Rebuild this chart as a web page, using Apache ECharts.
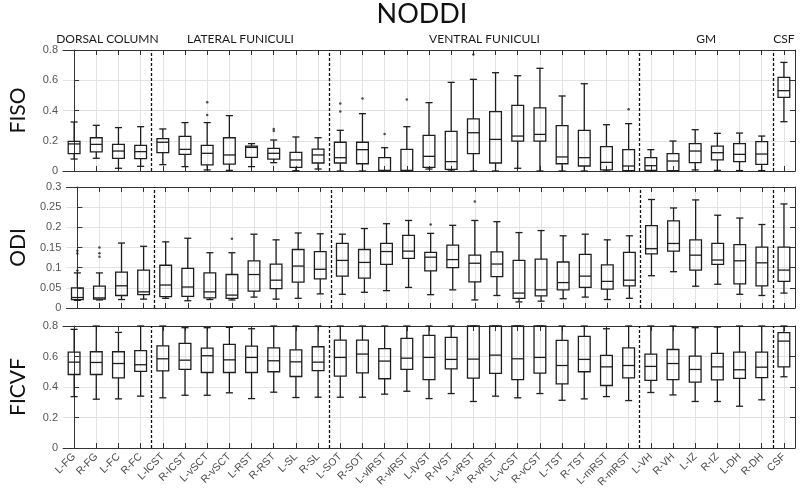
<!DOCTYPE html>
<html>
<head>
<meta charset="utf-8">
<script src="https://cdn.jsdelivr.net/npm/echarts@6/dist/echarts.min.js"></script>
<style>
  html, body { margin: 0; padding: 0; background: #fff; }
  #main { width: 800px; height: 493px; }
</style>
</head>
<body>
<div id="main"></div>
<script>
var tracts = ['L-FG', 'R-FG', 'L-FC', 'R-FC',
  'L-lCST', 'R-lCST', 'L-vSCT', 'R-vSCT', 'L-RST', 'R-RST', 'L-SL', 'R-SL',
  'L-SOT', 'R-SOT', 'L-vlRST', 'R-vlRST', 'L-lVST', 'R-lVST', 'L-vRST', 'R-vRST',
  'L-vCST', 'R-vCST', 'L-TST', 'R-TST', 'L-mRST', 'R-mRST',
  'L-VH', 'R-VH', 'L-IZ', 'R-IZ', 'L-DH', 'R-DH', 'CSF']

// region groups, in order, with how many tracts each holds
var groupNames = ['DORSAL COLUMN', 'LATERAL FUNICULI', 'VENTRAL FUNICULI', 'GM', 'CSF']
var groupSizes = [4, 8, 14, 6, 1]

// [min, q1, median, q3, max] for each tract
var fiso = [
  [0.079, 0.115, 0.179, 0.196, 0.324],
  [0.084, 0.126, 0.176, 0.220, 0.302],
  [0.018, 0.084, 0.132, 0.176, 0.287],
  [0.031, 0.082, 0.128, 0.170, 0.293],
  [0.042, 0.121, 0.190, 0.214, 0.278],
  [0.029, 0.110, 0.143, 0.229, 0.320],
  [0.007, 0.040, 0.117, 0.170, 0.320],
  [0.004, 0.046, 0.106, 0.220, 0.366],
  [0.029, 0.090, 0.156, 0.165, 0.181],
  [0.055, 0.079, 0.117, 0.150, 0.205],
  [0.002, 0.024, 0.073, 0.123, 0.225],
  [0.013, 0.053, 0.106, 0.145, 0.220],
  [0.000, 0.053, 0.088, 0.190, 0.269],
  [0.000, 0.048, 0.141, 0.190, 0.379],
  [0.000, 0.002, 0.004, 0.088, 0.154],
  [0.000, 0.001, 0.004, 0.143, 0.293],
  [0.013, 0.024, 0.097, 0.236, 0.452],
  [0.000, 0.011, 0.062, 0.262, 0.586],
  [0.000, 0.115, 0.253, 0.344, 0.606],
  [0.000, 0.053, 0.209, 0.392, 0.650],
  [0.018, 0.198, 0.231, 0.434, 0.630],
  [0.000, 0.198, 0.242, 0.417, 0.679],
  [0.000, 0.048, 0.093, 0.300, 0.496],
  [0.000, 0.033, 0.088, 0.269, 0.577],
  [0.000, 0.007, 0.057, 0.161, 0.306],
  [0.000, 0.003, 0.033, 0.141, 0.313],
  [0.000, 0.004, 0.035, 0.088, 0.141],
  [0.000, 0.003, 0.066, 0.115, 0.198],
  [0.007, 0.055, 0.132, 0.181, 0.273],
  [0.004, 0.073, 0.121, 0.165, 0.249],
  [0.003, 0.062, 0.110, 0.181, 0.251],
  [0.003, 0.044, 0.112, 0.194, 0.231],
  [0.326, 0.487, 0.531, 0.619, 0.718]
]
var fisoOutliers = [[6, 0.454], [6, 0.370], [9, 0.278], [9, 0.264], [12, 0.447], [12, 0.394],
  [13, 0.480], [14, 0.245], [15, 0.472], [18, 0.771], [25, 0.408]]

var odi = [
  [0.019, 0.021, 0.026, 0.050, 0.087],
  [0.020, 0.022, 0.025, 0.054, 0.087],
  [0.021, 0.031, 0.055, 0.089, 0.161],
  [0.022, 0.033, 0.040, 0.094, 0.153],
  [0.024, 0.028, 0.057, 0.106, 0.164],
  [0.018, 0.029, 0.052, 0.098, 0.173],
  [0.021, 0.025, 0.040, 0.087, 0.137],
  [0.020, 0.024, 0.032, 0.083, 0.137],
  [0.027, 0.042, 0.083, 0.117, 0.183],
  [0.022, 0.048, 0.069, 0.109, 0.169],
  [0.024, 0.064, 0.104, 0.145, 0.186],
  [0.035, 0.072, 0.096, 0.140, 0.184],
  [0.034, 0.079, 0.118, 0.160, 0.183],
  [0.039, 0.074, 0.113, 0.145, 0.197],
  [0.043, 0.108, 0.140, 0.160, 0.209],
  [0.051, 0.123, 0.141, 0.180, 0.217],
  [0.033, 0.092, 0.126, 0.138, 0.185],
  [0.045, 0.100, 0.120, 0.156, 0.205],
  [0.020, 0.065, 0.111, 0.131, 0.217],
  [0.031, 0.078, 0.109, 0.139, 0.214],
  [0.015, 0.024, 0.037, 0.118, 0.187],
  [0.017, 0.030, 0.045, 0.121, 0.192],
  [0.023, 0.045, 0.063, 0.114, 0.179],
  [0.027, 0.051, 0.079, 0.133, 0.183],
  [0.021, 0.047, 0.066, 0.107, 0.169],
  [0.024, 0.055, 0.069, 0.138, 0.179],
  [0.080, 0.134, 0.147, 0.204, 0.269],
  [0.090, 0.141, 0.160, 0.216, 0.248],
  [0.054, 0.094, 0.131, 0.169, 0.268],
  [0.059, 0.108, 0.119, 0.160, 0.230],
  [0.034, 0.060, 0.117, 0.157, 0.223],
  [0.031, 0.055, 0.112, 0.151, 0.207],
  [0.037, 0.066, 0.094, 0.151, 0.258]
]
var odiOutliers = [[0, 0.142], [0, 0.135], [0, 0.093], [1, 0.150], [1, 0.136], [1, 0.127],
  [7, 0.172], [16, 0.207], [18, 0.264]]

var ficvf = [
  [0.337, 0.482, 0.563, 0.629, 0.778],
  [0.320, 0.482, 0.561, 0.631, 0.800],
  [0.322, 0.460, 0.554, 0.631, 0.758],
  [0.340, 0.502, 0.546, 0.638, 0.800],
  [0.329, 0.506, 0.585, 0.670, 0.800],
  [0.346, 0.515, 0.576, 0.686, 0.789],
  [0.346, 0.495, 0.605, 0.655, 0.789],
  [0.362, 0.495, 0.578, 0.679, 0.791],
  [0.324, 0.495, 0.594, 0.668, 0.782],
  [0.366, 0.500, 0.572, 0.657, 0.800],
  [0.331, 0.469, 0.565, 0.644, 0.800],
  [0.333, 0.508, 0.563, 0.664, 0.800],
  [0.333, 0.471, 0.594, 0.708, 0.800],
  [0.333, 0.493, 0.616, 0.708, 0.800],
  [0.353, 0.454, 0.570, 0.651, 0.800],
  [0.372, 0.515, 0.589, 0.719, 0.800],
  [0.324, 0.449, 0.594, 0.738, 0.800],
  [0.357, 0.519, 0.581, 0.725, 0.800],
  [0.305, 0.458, 0.583, 0.800, 0.800],
  [0.340, 0.489, 0.609, 0.800, 0.800],
  [0.329, 0.449, 0.585, 0.800, 0.800],
  [0.357, 0.491, 0.594, 0.800, 0.800],
  [0.313, 0.421, 0.541, 0.706, 0.800],
  [0.322, 0.500, 0.581, 0.732, 0.800],
  [0.337, 0.410, 0.532, 0.607, 0.782],
  [0.311, 0.460, 0.541, 0.657, 0.800],
  [0.364, 0.443, 0.535, 0.616, 0.800],
  [0.348, 0.449, 0.554, 0.646, 0.800],
  [0.305, 0.432, 0.515, 0.603, 0.789],
  [0.305, 0.447, 0.532, 0.620, 0.793],
  [0.274, 0.456, 0.513, 0.629, 0.800],
  [0.316, 0.462, 0.530, 0.629, 0.800],
  [0.467, 0.532, 0.701, 0.756, 0.800]
]
var ficvfOutliers = []

var panels = [
  { name: 'FISO', stats: fiso, outliers: fisoOutliers, max: 0.8, step: 0.2, top: 50, height: 121 },
  { name: 'ODI', stats: odi, outliers: odiOutliers, max: 0.3, step: 0.05, top: 187, height: 121 },
  { name: 'FICVF', stats: ficvf, outliers: ficvfOutliers, max: 0.8, step: 0.2, top: 326, height: 122 },
]

var frameColor = '#333'
var gridColor = '#e3e3e3'
var boxColor = '#1e1e1e'

// divider positions between groups, and the span of each group (in tract index units)
var dividers = []
var groupAreas = []
var start = 0
groupSizes.forEach(function (n, i) {
  groupAreas.push([{ xAxis: start - 0.5, name: groupNames[i] }, { xAxis: start + n - 0.5 }])
  start += n
  if (i < groupSizes.length - 1) dividers.push({ xAxis: start - 0.5 })
})

function lineStyle(w) {
  return { stroke: boxColor, lineWidth: w || 1.3, fill: null }
}

function renderBox(params, api) {
  var x = api.value(0)
  var lo = api.coord([x, api.value(1)])
  var q1 = api.coord([x, api.value(2)])
  var md = api.coord([x, api.value(3)])
  var q3 = api.coord([x, api.value(4)])
  var hi = api.coord([x, api.value(5)])
  var band = api.size([1, 0])[0]
  var bw = band * 0.53
  var cw = band * 0.32
  var cx = lo[0]
  return {
    type: 'group',
    children: [
      { type: 'line', shape: { x1: cx, y1: hi[1], x2: cx, y2: q3[1] }, style: lineStyle() },
      { type: 'line', shape: { x1: cx, y1: q1[1], x2: cx, y2: lo[1] }, style: lineStyle() },
      { type: 'line', shape: { x1: cx - cw / 2, y1: hi[1], x2: cx + cw / 2, y2: hi[1] }, style: lineStyle() },
      { type: 'line', shape: { x1: cx - cw / 2, y1: lo[1], x2: cx + cw / 2, y2: lo[1] }, style: lineStyle() },
      { type: 'rect', shape: { x: cx - bw / 2, y: q3[1], width: bw, height: q1[1] - q3[1] }, style: lineStyle() },
      { type: 'line', shape: { x1: cx - bw / 2, y1: md[1], x2: cx + bw / 2, y2: md[1] }, style: lineStyle() },
    ],
  }
}

var grids = []
var xAxes = []
var yAxes = []
var series = []

panels.forEach(function (p, i) {
  var last = i === panels.length - 1
  grids.push({ left: 58, right: 5, top: p.top, height: p.height })

  // bottom category axis: labels only on the last panel
  xAxes.push({
    type: 'category',
    gridIndex: i,
    data: tracts,
    position: 'bottom',
    axisLine: { show: true, onZero: false, lineStyle: { color: frameColor, width: 1 } },
    axisTick: { show: true, inside: true, length: 5, interval: 0, alignWithLabel: true, lineStyle: { color: frameColor } },
    axisLabel: {
      show: last,
      interval: 0,
      rotate: 45,
      margin: 7,
      fontSize: 10.5,
      color: '#4a4a4a',
      fontFamily: 'Liberation Sans, Arial, sans-serif',
    },
    splitLine: { show: true, interval: 0, alignWithLabel: true, lineStyle: { color: gridColor, width: 1 } },
  })
  // top axis, just for the box frame and the ticks
  xAxes.push({
    type: 'category',
    gridIndex: i,
    data: tracts,
    position: 'top',
    axisLine: { show: true, onZero: false, lineStyle: { color: frameColor, width: 1 } },
    axisTick: { show: true, inside: true, length: 5, interval: 0, alignWithLabel: true, lineStyle: { color: frameColor } },
    axisLabel: { show: false },
    splitLine: { show: false },
  })
  // hidden continuous axis over the same span, for the group dividers and labels
  xAxes.push({
    type: 'value',
    gridIndex: i,
    min: -0.5,
    max: tracts.length - 0.5,
    show: false,
  })

  yAxes.push({
    type: 'value',
    gridIndex: i,
    min: 0,
    max: p.max,
    interval: p.step,
    position: 'left',
    name: p.name,
    nameLocation: 'middle',
    nameGap: 34,
    nameTextStyle: { fontSize: 21, color: '#111', fontFamily: 'Lato, sans-serif' },
    axisLine: { show: true, lineStyle: { color: frameColor, width: 1 } },
    axisTick: { show: true, inside: true, length: 5, lineStyle: { color: frameColor } },
    axisLabel: {
      fontSize: 11,
      margin: 5,
      color: '#555',
      fontFamily: 'Liberation Sans, Arial, sans-serif',
      formatter: function (v) { return String(+v.toFixed(2)) },
    },
    splitLine: { show: true, lineStyle: { color: gridColor, width: 1 } },
  })
  yAxes.push({
    type: 'value',
    gridIndex: i,
    min: 0,
    max: p.max,
    interval: p.step,
    position: 'right',
    axisLine: { show: true, lineStyle: { color: frameColor, width: 1 } },
    axisTick: { show: true, inside: true, length: 5, lineStyle: { color: frameColor } },
    axisLabel: { show: false },
    splitLine: { show: false },
  })

  var boxData = p.stats.map(function (s, k) {
    return [k, s[0], s[1], s[2], s[3], s[4]]
  })

  series.push({
    type: 'custom',
    xAxisIndex: i * 3,
    yAxisIndex: i * 2,
    renderItem: renderBox,
    encode: { x: 0, y: [1, 2, 3, 4, 5] },
    data: boxData,
    silent: true,
    z: 3,
  })

  series.push({
    type: 'scatter',
    xAxisIndex: i * 3 + 2,
    yAxisIndex: i * 2,
    symbolSize: 2.5,
    itemStyle: { color: '#222' },
    silent: true,
    z: 4,
    data: p.outliers,
    markLine: {
      silent: true,
      symbol: 'none',
      label: { show: false },
      lineStyle: { color: '#111', width: 1.3, type: [3, 2] },
      data: dividers,
    },
    markArea: i === 0 ? {
      silent: true,
      itemStyle: { color: 'rgba(0,0,0,0)' },
      label: {
        show: true,
        position: 'top',
        distance: 5,
        fontSize: 12,
        color: '#1a1a1a',
        fontFamily: 'Lato, sans-serif',
      },
      data: groupAreas,
    } : undefined,
  })
})

var chart = echarts.init(document.getElementById('main'))
chart.setOption({
  animation: false,
  backgroundColor: '#fff',
  grid: grids,
  xAxis: xAxes,
  yAxis: yAxes,
  graphic: [{
    type: 'text',
    x: 422,
    y: 14,
    style: {
      text: 'NODDI',
      align: 'center',
      verticalAlign: 'middle',
      font: '27px Lato, sans-serif',
      fill: '#111',
    },
  }],
  series: series,
})
</script>
</body>
</html>
